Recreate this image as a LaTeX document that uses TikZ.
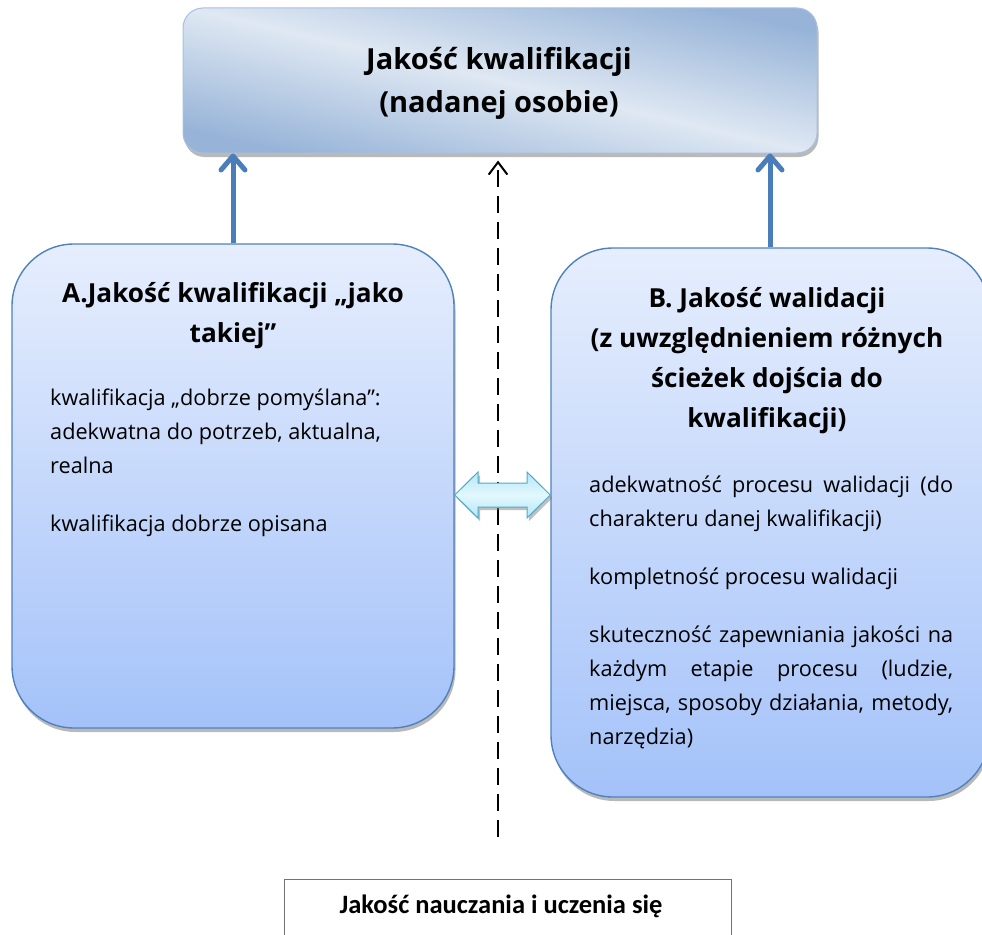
\documentclass[tikz,border=0pt]{standalone}
\usepackage{fontspec}
\setmainfont{Open Sans}
\newfontfamily\carlito{Carlito}
\usetikzlibrary{arrows.meta,shadows,calc}

\definecolor{tbdark}{HTML}{97B4D8}
\definecolor{tblight}{HTML}{DFE8F3}
\definecolor{tbline}{HTML}{A9C0DE}
\definecolor{pnltop}{HTML}{E6EEFD}
\definecolor{pnlbot}{HTML}{A4C2F9}
\definecolor{pnlline}{HTML}{4F81BD}
\definecolor{arrblue}{HTML}{4A7EBB}
\definecolor{dalight}{HTML}{E3F8FE}
\definecolor{dadark}{HTML}{B3E6F6}
\definecolor{daline}{HTML}{4BACC6}
\definecolor{shadowgrey}{HTML}{7F7F7F}

% strut fixing the first baseline 30pt below a text node's north edge
\newcommand\firststrut{\rule{0pt}{30pt}}

\begin{document}
\begin{tikzpicture}[x=1pt,y=-1pt,
  boxshadow/.style={drop shadow={shadow xshift=1.5pt, shadow yshift=-4pt,
      fill=shadowgrey, opacity=0.55}},
  titlebox/.style={rectangle, rounded corners=20pt, draw=tbline, line width=1pt,
    top color=tbdark, bottom color=tbdark, middle color=tblight, shading angle=-13,
    boxshadow, inner sep=0pt},
  panel/.style={rectangle, rounded corners=62pt, draw=pnlline, line width=1.4pt,
    top color=pnltop, bottom color=pnlbot, boxshadow, inner sep=0pt},
  plainbox/.style={rectangle, draw=black!55, line width=1pt, fill=white, inner sep=0pt},
  headtext/.style={inner sep=0pt, align=center, anchor=north,
    font=\fontsize{29}{43}\selectfont\bfseries},
  paneltitle/.style={inner sep=0pt, align=center, anchor=north,
    font=\fontsize{26.2}{40}\selectfont\bfseries},
  bodytext/.style={inner sep=0pt, align=left, anchor=north west,
    font=\fontsize{21.7}{34}\selectfont},
  bluearrow/.style={draw=arrblue, line width=5pt,
    -{Straight Barb[length=14pt, width=24pt, line cap=round, line join=round]}},
  dasharrow/.style={draw=black, line width=2pt, dash pattern=on 17pt off 9pt,
    -{Straight Barb[length=12pt, width=18pt, line cap=round]}},
  link/.style={draw=daline, line width=1pt, top color=dadark, bottom color=dadark,
    middle color=dalight, drop shadow={shadow xshift=2pt, shadow yshift=-3pt,
      fill=shadowgrey, opacity=0.5}}
]
\useasboundingbox (0,0) rectangle (982,934);
\clip (0,0) rectangle (982,934);

% top box
\node[titlebox, minimum width=634pt, minimum height=145pt] (top) at (500,80.5) {};
\node[headtext] (toptext) at (499,39) {\firststrut Jakość kwalifikacji\\(nadanej osobie)};

% panel A
\node[panel, minimum width=442pt, minimum height=484pt] (A) at (233,486) {};
\node[paneltitle] (Atitle) at (233,272)
  {\firststrut A.Jakość kwalifikacji „jako\\takiej”};
\node[bodytext] (Abody) at (50,375)
  {\firststrut kwalifikacja „dobrze pomyślana”:\\
   adekwatna do potrzeb, aktualna,\\
   realna\\[24pt]
   kwalifikacja dobrze opisana};

% panel B
\node[panel, minimum width=438pt, minimum height=549pt] (B) at (770,522.5) {};
\node[paneltitle] (Btitle) at (767,277)
  {\firststrut B. Jakość walidacji\\(z uwzględnieniem różnych\\ścieżek dojścia do\\kwalifikacji)};
\node[bodytext] (Bbody) at (589,462)
  {\firststrut\makebox[364pt][s]{adekwatność procesu walidacji (do}\\
   charakteru danej kwalifikacji)\\[24pt]
   kompletność procesu walidacji\\[24pt]
   \makebox[364pt][s]{skuteczność zapewniania jakości na}\\
   \makebox[364pt][s]{każdym etapie procesu (ludzie,}\\
   \makebox[364pt][s]{miejsca, sposoby działania, metody,}\\
   narzędzia)};

% bottom box
\node[plainbox, minimum width=447pt, minimum height=56pt] (bottom) at (507.5,907) {};
\node[inner sep=0pt, anchor=base, font=\carlito\fontsize{26.5}{30}\selectfont\bfseries]
  (bottomtext) at (501,913) {Jakość nauczania i uczenia się};

% arrows into the top box
\draw[bluearrow] (A.north) -- (A.north |- top.south);
\draw[bluearrow] (B.north) -- (B.north |- top.south);

% dashed link from the bottom box up to the top box
\coordinate (dlow) at (498,837);
\draw[dasharrow] (dlow) -- ($(top.south -| dlow)+(0,7)$);

% two-headed arrow between the panels
\path[link] (A.east |- 0,495) -- (478,472) -- (478,483) -- (527,483) -- (527,472)
  -- (B.west |- 0,495) -- (527,518) -- (527,507) -- (478,507) -- (478,518) -- cycle;
\end{tikzpicture}
\end{document}
